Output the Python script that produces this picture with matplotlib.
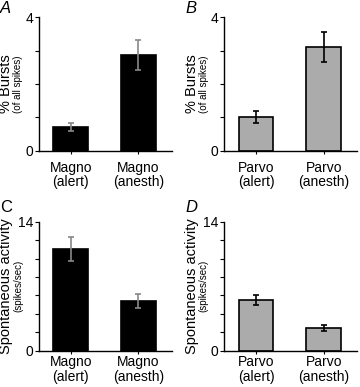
import matplotlib
matplotlib.use('Agg')
import matplotlib.pyplot as plt
import numpy as np

plt.rcParams['font.family'] = ['Liberation Sans', 'DejaVu Sans']

magno_labels = ['Magno\n(alert)', 'Magno\n(anesth)']
parvo_labels = ['Parvo\n(alert)', 'Parvo\n(anesth)']

magno_bursts = [0.72, 2.87]
magno_bursts_err = [0.12, 0.44]
parvo_bursts = [1.0, 3.1]
parvo_bursts_err = [0.18, 0.45]

magno_spont = [11.0, 5.4]
magno_spont_err = [1.3, 0.78]
parvo_spont = [5.5, 2.45]
parvo_spont_err = [0.58, 0.35]

GREY = '#ababab'


def panel(fig, rect, vals, errs, labels, color, ecolor, ymax, ystep,
          letter, italic, ylab, ylab_small, xpad, lety):
    ax = fig.add_axes(rect)
    x = np.arange(len(vals))
    ax.bar(x, vals, width=0.51, color=color, edgecolor='black', linewidth=1.2,
           zorder=2)
    ax.errorbar(x, vals, yerr=errs, fmt='none', ecolor=ecolor, elinewidth=1.2,
                capsize=2.5, capthick=1.2, zorder=3)
    ax.set_xlim(-0.47, 1.5)
    ax.set_ylim(0, ymax)
    ax.set_yticks([0, ymax])
    ax.set_yticks(np.arange(ystep, ymax, ystep), minor=True)
    ax.set_xticks(x)
    ax.set_xticklabels(labels, fontsize=10, linespacing=1.05)
    ax.tick_params(axis='y', which='both', labelsize=10, length=3,
                   width=0.8, pad=1)
    ax.tick_params(axis='x', length=2, width=0.8, pad=xpad)
    for s in ['top', 'right']:
        ax.spines[s].set_visible(False)
    for s in ['left', 'bottom']:
        ax.spines[s].set_linewidth(1.0)
    ax.text(-0.29, lety, letter, transform=ax.transAxes, fontsize=12,
            style='italic' if italic else 'normal', va='center', ha='left')
    ax.text(-0.245, 0.5, ylab, transform=ax.transAxes, rotation=90,
            fontsize=10.5, ha='center', va='center')
    ax.text(-0.155, 0.5, ylab_small, transform=ax.transAxes, rotation=90,
            fontsize=7, ha='center', va='center')
    return ax


fig = plt.figure(figsize=(3.6, 3.87), dpi=100)

panel(fig, [0.108, 0.610, 0.37, 0.346], magno_bursts, magno_bursts_err,
      magno_labels, 'black', '#888888', 4, 1, 'A', True,
      '% Bursts', '(of all spikes)', 5, 1.065)
panel(fig, [0.623, 0.610, 0.37, 0.346], parvo_bursts, parvo_bursts_err,
      parvo_labels, GREY, 'black', 4, 1, 'B', True,
      '% Bursts', '(of all spikes)', 5, 1.065)
panel(fig, [0.108, 0.094, 0.37, 0.333], magno_spont, magno_spont_err,
      magno_labels, 'black', '#888888', 14, 2, 'C', False,
      'Spontaneous activity', '(spikes/sec)', 1.5, 1.11)
panel(fig, [0.623, 0.094, 0.37, 0.333], parvo_spont, parvo_spont_err,
      parvo_labels, GREY, 'black', 14, 2, 'D', True,
      'Spontaneous activity', '(spikes/sec)', 1.5, 1.11)

fig.savefig('out.png', dpi=100)
